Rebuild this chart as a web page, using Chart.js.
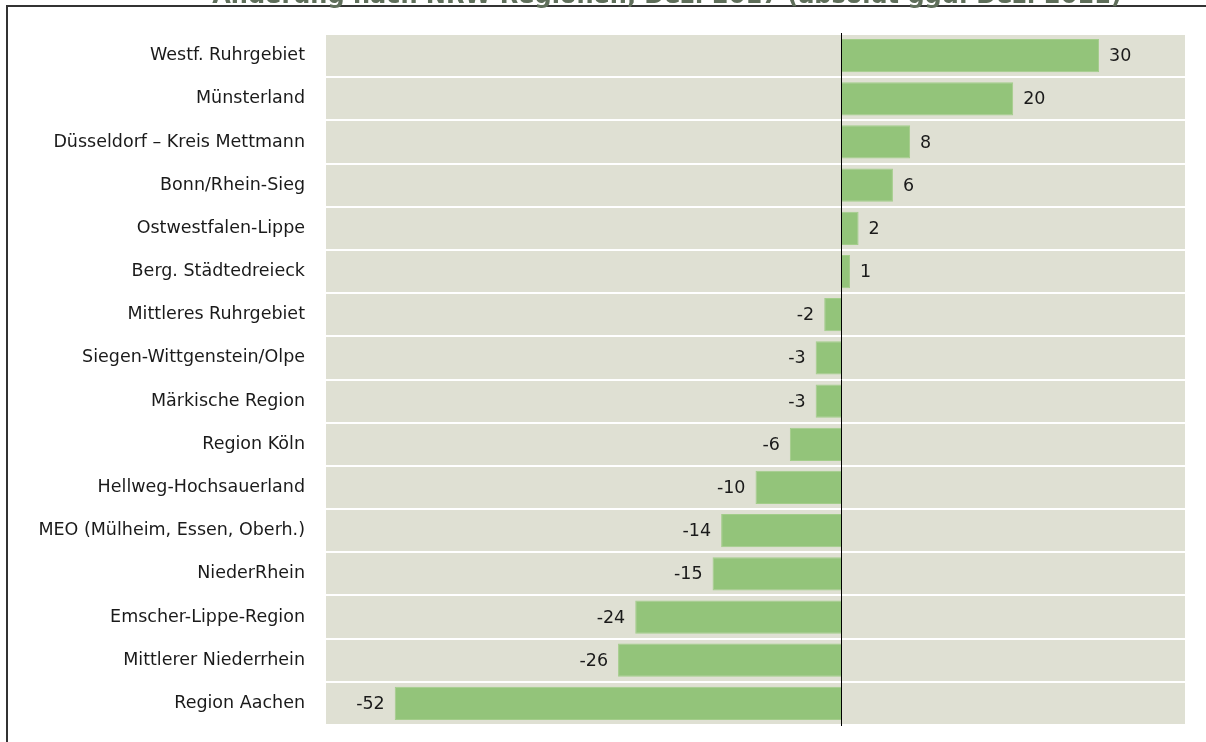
<!DOCTYPE html>
<html>
<head>
<meta charset="utf-8">
<script src="https://cdn.jsdelivr.net/npm/chart.js@4/dist/chart.umd.min.js"></script>
<style>
  html, body { margin: 0; padding: 0; background: #ffffff; }
  #wrap { width: 1206px; height: 742px; position: relative; }
</style>
</head>
<body>
<div id="wrap"><canvas id="c" width="1206" height="742"></canvas></div>
<script>
const chartTitle = "Änderung nach NRW-Regionen, Dez. 2017 (absolut ggü. Dez. 2011)";
const categories = [
  "Westf. Ruhrgebiet",
  "Münsterland",
  "Düsseldorf – Kreis Mettmann",
  "Bonn/Rhein-Sieg",
  "Ostwestfalen-Lippe",
  "Berg. Städtedreieck",
  "Mittleres Ruhrgebiet",
  "Siegen-Wittgenstein/Olpe",
  "Märkische Region",
  "Region Köln",
  "Hellweg-Hochsauerland",
  "MEO (Mülheim, Essen, Oberh.)",
  "NiederRhein",
  "Emscher-Lippe-Region",
  "Mittlerer Niederrhein",
  "Region Aachen"
];
const changeValues = [30, 20, 8, 6, 2, 1, -2, -3, -3, -6, -10, -14, -15, -24, -26, -52];
const axisMin = -60;
const axisMax = 40;

const FONT = '"DejaVu Sans", sans-serif';

const decor = {
  id: 'decor',
  beforeDraw(chart) {
    const { ctx, chartArea: a } = chart;
    ctx.save();
    ctx.fillStyle = '#dfe0d3';
    ctx.fillRect(a.left, a.top, a.right - a.left, a.bottom - a.top);
    ctx.restore();
  },
  afterDatasetsDraw(chart) {
    const { ctx, chartArea: a } = chart;
    const xs = chart.scales.x;
    const x0 = Math.round(xs.getPixelForValue(0)) + 0.5;
    ctx.save();
    ctx.strokeStyle = '#000000';
    ctx.lineWidth = 1;
    ctx.beginPath();
    ctx.moveTo(x0, a.top - 1);
    ctx.lineTo(x0, a.bottom + 1);
    ctx.stroke();

    // value labels
    const meta = chart.getDatasetMeta(0);
    ctx.fillStyle = '#1a1a1a';
    ctx.font = '17.5px ' + FONT;
    ctx.textBaseline = 'middle';
    meta.data.forEach((bar, i) => {
      const v = changeValues[i];
      if (v >= 0) {
        ctx.textAlign = 'left';
        ctx.fillText(String(v), bar.x + 10, bar.y + 1);
      } else {
        ctx.textAlign = 'right';
        ctx.fillText(String(v), bar.x - 10, bar.y + 1);
      }
    });

    // frame + title
    ctx.strokeStyle = '#333333';
    ctx.lineWidth = 2;
    ctx.beginPath();
    ctx.moveTo(7, 742);
    ctx.lineTo(7, 6);
    ctx.lineTo(1206, 6);
    ctx.stroke();
    ctx.fillStyle = '#5f6e5a';
    ctx.font = 'bold 24px ' + FONT;
    ctx.textAlign = 'center';
    ctx.textBaseline = 'alphabetic';
    ctx.fillText(chartTitle, 667, 3);
    ctx.restore();
  }
};

new Chart(document.getElementById('c'), {
  type: 'bar',
  data: {
    labels: categories,
    datasets: [{
      data: changeValues,
      backgroundColor: '#93c47a',
      borderColor: '#a3cd8a',
      borderWidth: 1,
      barPercentage: 0.77,
      categoryPercentage: 1.0
    }]
  },
  options: {
    indexAxis: 'y',
    responsive: false,
    animation: false,
    devicePixelRatio: 1,
    layout: { padding: { top: 34, bottom: 17, right: 21, left: 0 } },
    plugins: {
      legend: { display: false },
      tooltip: { enabled: false },
      title: { display: false }
    },
    scales: {
      x: {
        display: false,
        min: axisMin,
        max: axisMax
      },
      y: {
        offset: true,
        afterFit(scale) {
          scale.width = 326;
          scale.paddingTop = 0;
          scale.paddingBottom = 0;
        },
        border: { display: false },
        grid: {
          offset: true,
          color: '#ffffff',
          lineWidth: 2,
          drawTicks: false
        },
        ticks: {
          color: '#1a1a1a',
          padding: 21,
          font: { family: FONT, size: 17.5 }
        }
      }
    }
  },
  plugins: [decor]
});
</script>
</body>
</html>
